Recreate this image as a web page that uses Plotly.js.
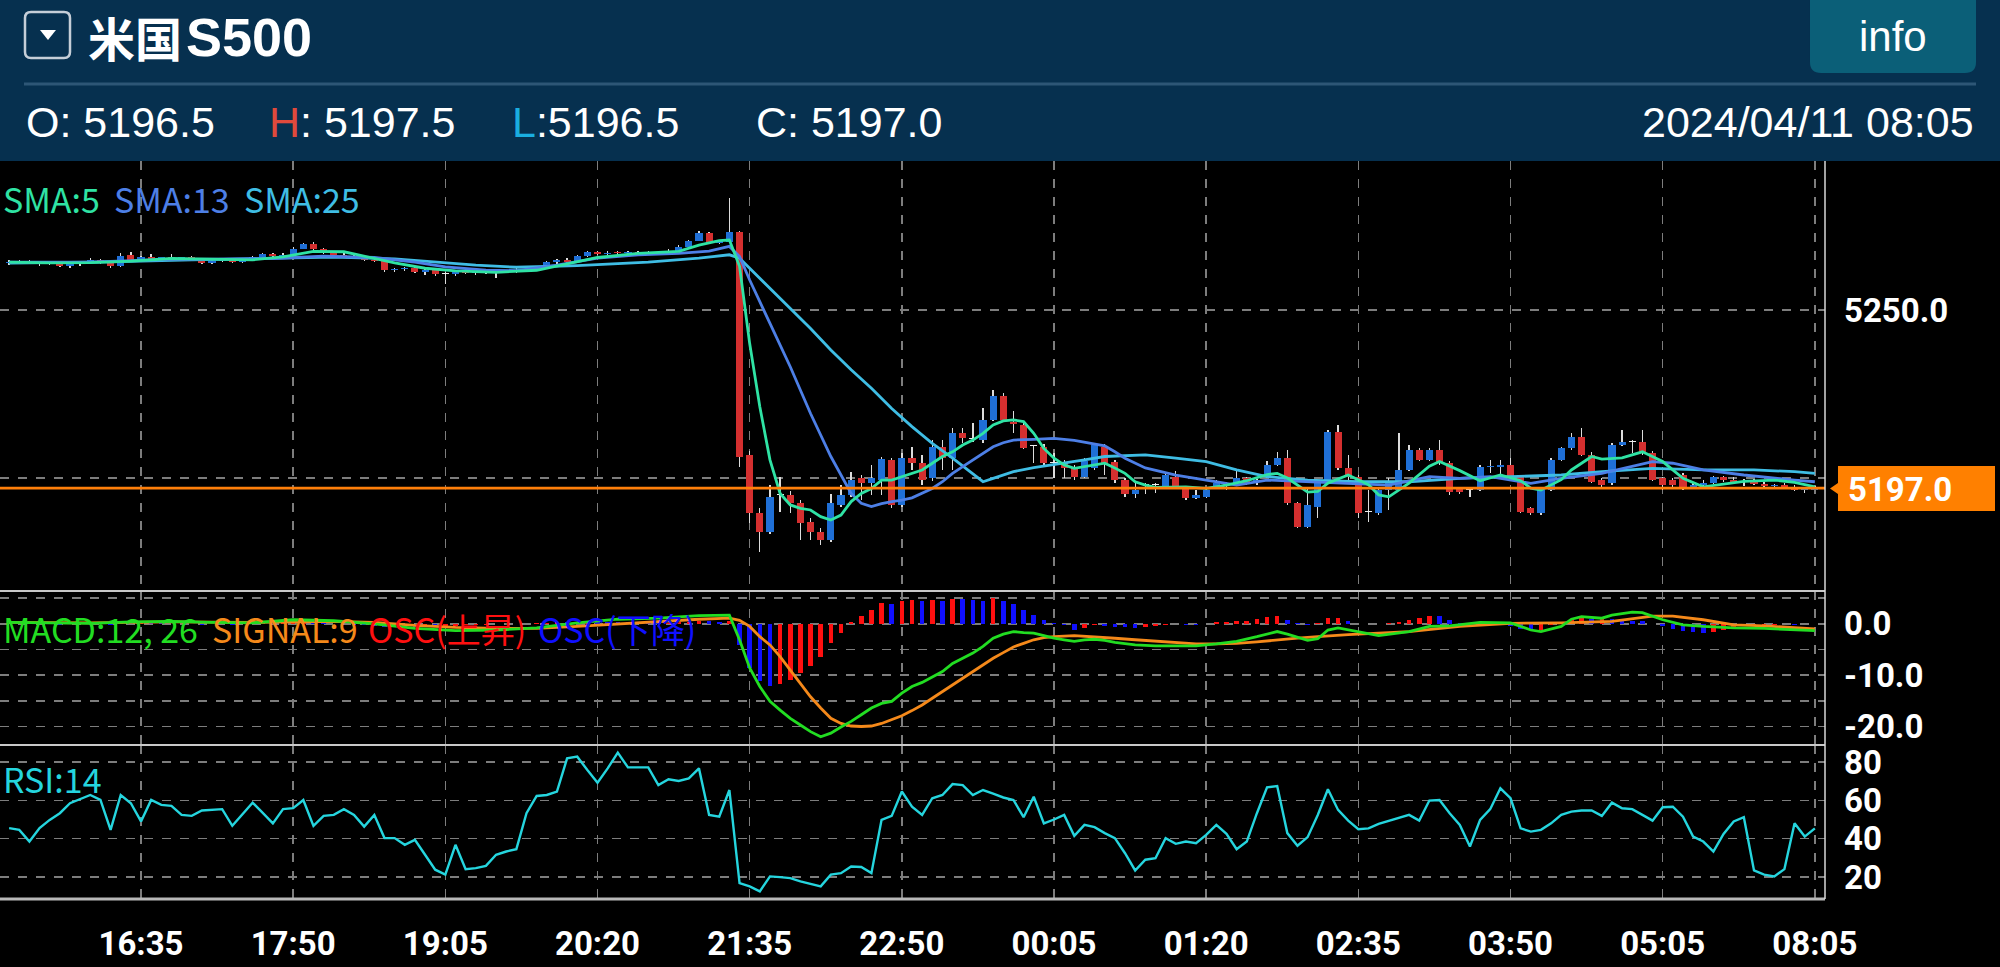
<!DOCTYPE html>
<html><head><meta charset="utf-8">
<script src="https://cdn.plot.ly/plotly-3.0.1.min.js"></script>
<style>html,body{margin:0;padding:0;background:#000;overflow:hidden}#chart{width:2000px;height:967px}</style>
</head><body><div id="chart"></div>
<script>
// ---------- DATA ----------
const symbolName = '米国';
const symbolCode = 'S500';
const lastTime = '2024/04/11 08:05';
const timeTickIdx = [13, 28, 43, 58, 73, 88, 103, 118, 133, 148, 163, 178];
const timeLabels = ['16:35','17:50','19:05','20:20','21:35','22:50','00:05','01:20','02:35','03:50','05:05','08:05'];

const openP = [
5264.0,5264.2,5264.5,5264.0,5263.6,5264.2,5263.0,5263.6,5264.2,5264.8,
5264.0,5263.0,5266.2,5265.0,5265.6,5265.2,5265.6,5265.2,5265.6,5265.0,
5264.0,5264.6,5265.0,5264.4,5265.2,5265.6,5266.6,5266.0,5266.4,5268.2,
5269.6,5268.0,5267.0,5266.4,5266.0,5265.4,5265.0,5264.6,5261.8,5262.2,
5262.4,5261.4,5262.0,5260.8,5260.8,5261.2,5260.9,5261.4,5261.0,5261.4,
5261.2,5262.0,5261.8,5262.8,5264.2,5264.8,5264.2,5266.0,5267.2,5266.6,
5267.0,5266.8,5267.2,5266.8,5267.3,5267.0,5267.6,5268.8,5270.6,5273.0,
5270.0,5270.2,5273.1,5206.9,5189.5,5184.0,5195.0,5195.0,5192.5,5187.0,
5184.0,5181.5,5192.0,5195.0,5200.0,5198.5,5199.5,5205.3,5192.0,5205.9,
5204.4,5199.9,5209.3,5205.9,5213.3,5211.5,5211.3,5217.3,5224.4,5216.8,
5215.8,5209.4,5209.3,5204.4,5204.4,5203.4,5200.4,5203.0,5209.3,5204.9,
5199.4,5195.4,5197.9,5198.0,5197.4,5200.4,5196.9,5194.0,5194.4,5197.6,
5198.0,5198.4,5199.9,5198.8,5200.4,5203.9,5205.9,5192.5,5185.5,5191.5,
5198.9,5213.8,5202.9,5200.4,5190.0,5189.5,5196.4,5196.4,5202.4,5208.3,
5205.4,5208.3,5204.4,5196.9,5196.4,5196.4,5203.2,5203.3,5203.9,5200.4,
5191.0,5189.5,5196.4,5205.4,5208.8,5212.3,5206.9,5199.4,5198.4,5209.8,
5210.8,5210.8,5207.3,5199.9,5199.4,5200.9,5197.4,5197.8,5198.6,5200.2,
5199.4,5198.8,5199.2,5198.2,5197.6,5198.0,5197.2,5196.4,5196.5];
const highP = [
5264.8,5264.8,5265.0,5264.4,5264.6,5264.5,5264.0,5264.5,5265.5,5265.2,
5264.3,5266.8,5267.2,5266.0,5266.6,5265.8,5266.7,5265.8,5266.0,5265.4,
5265.0,5265.4,5265.3,5265.4,5266.0,5266.8,5267.0,5266.8,5268.6,5270.0,
5270.2,5268.4,5267.4,5266.8,5266.3,5265.8,5265.4,5264.8,5262.6,5262.8,
5262.7,5262.4,5262.2,5261.4,5261.6,5261.8,5261.6,5261.8,5261.6,5261.7,
5262.4,5262.6,5263.2,5264.6,5265.2,5265.4,5266.4,5267.6,5267.6,5267.4,
5267.5,5267.6,5267.5,5267.6,5267.6,5268.0,5269.2,5270.9,5273.4,5273.3,
5270.8,5283.3,5273.5,5208.0,5191.0,5197.9,5200.4,5196.0,5193.5,5188.0,
5185.0,5195.4,5198.0,5201.9,5201.0,5203.9,5206.3,5206.0,5207.3,5209.3,
5206.8,5211.3,5211.3,5214.8,5214.8,5216.3,5220.7,5226.2,5225.2,5219.8,
5216.3,5209.9,5210.0,5207.4,5205.4,5204.0,5206.0,5210.4,5210.0,5205.5,
5200.0,5199.0,5198.4,5198.6,5201.4,5202.0,5197.4,5196.4,5197.0,5199.4,
5198.8,5202.4,5200.4,5199.8,5205.0,5207.8,5208.3,5193.0,5197.4,5199.2,
5214.3,5215.8,5206.9,5201.0,5196.4,5196.9,5199.9,5213.3,5209.8,5208.8,
5208.8,5211.3,5205.0,5197.4,5197.4,5203.9,5205.4,5205.4,5205.9,5201.0,
5191.5,5196.9,5205.9,5209.3,5213.3,5214.8,5207.8,5200.0,5210.3,5214.3,
5211.3,5214.3,5208.0,5200.4,5200.0,5201.4,5198.6,5199.4,5200.6,5200.6,
5200.2,5199.6,5199.6,5198.8,5198.2,5198.4,5197.8,5197.4,5197.5];
const lowP = [
5263.5,5263.6,5263.8,5263.2,5263.4,5262.8,5262.6,5263.2,5264.0,5263.6,
5262.5,5262.8,5264.8,5264.6,5265.0,5264.6,5265.2,5264.8,5264.8,5263.6,
5263.8,5264.2,5264.0,5264.0,5264.8,5265.4,5265.6,5265.8,5266.2,5268.0,
5267.6,5266.6,5266.0,5265.4,5265.2,5264.6,5264.2,5261.4,5261.2,5261.6,
5261.0,5260.5,5260.2,5257.8,5260.2,5260.6,5260.4,5260.6,5259.6,5260.9,
5261.0,5261.4,5261.6,5262.6,5263.8,5263.8,5264.0,5265.8,5266.2,5266.2,
5266.4,5266.5,5266.4,5266.6,5266.6,5266.8,5267.4,5268.6,5270.4,5269.6,
5269.6,5269.8,5203.4,5186.5,5178.0,5183.5,5190.0,5189.5,5181.5,5181.5,
5180.0,5181.0,5191.5,5194.5,5193.5,5195.0,5195.0,5191.0,5191.5,5202.4,
5197.9,5199.0,5202.4,5202.4,5210.4,5210.8,5210.3,5217.0,5217.0,5213.3,
5208.5,5204.4,5204.0,5200.0,5199.9,5199.4,5200.0,5202.5,5200.9,5198.4,
5194.5,5194.0,5195.4,5195.6,5197.0,5196.9,5193.4,5193.8,5194.0,5197.0,
5196.4,5198.0,5197.9,5198.0,5200.0,5203.5,5191.9,5185.0,5185.0,5188.0,
5198.4,5202.4,5199.4,5188.0,5187.0,5189.0,5190.5,5196.0,5202.0,5205.0,
5205.0,5204.0,5195.0,5195.4,5194.4,5196.0,5201.4,5200.4,5200.0,5189.5,
5188.9,5189.0,5196.0,5205.0,5208.4,5206.5,5198.4,5197.4,5198.0,5209.4,
5207.3,5207.0,5199.0,5196.4,5197.4,5196.4,5196.6,5197.4,5198.2,5198.8,
5198.2,5197.6,5197.8,5197.2,5196.8,5196.6,5196.2,5195.6,5196.5];
const closeP = [
5264.2,5264.5,5264.0,5263.6,5264.2,5263.0,5263.6,5264.2,5264.8,5264.0,
5263.0,5266.0,5265.0,5265.6,5265.2,5265.6,5265.2,5265.6,5265.0,5264.0,
5264.6,5265.0,5264.4,5265.2,5265.6,5266.6,5266.0,5266.4,5268.2,5269.6,
5268.0,5267.0,5266.4,5266.0,5265.4,5265.0,5264.6,5261.8,5262.2,5262.4,
5261.4,5262.0,5260.8,5260.8,5261.2,5260.9,5261.4,5261.0,5261.4,5261.2,
5262.0,5261.8,5262.8,5264.2,5264.8,5264.2,5266.0,5267.2,5266.6,5267.0,
5266.8,5267.2,5266.8,5267.3,5267.0,5267.6,5268.8,5270.6,5273.0,5270.0,
5270.4,5273.1,5206.4,5189.5,5184.0,5194.4,5195.0,5192.5,5186.5,5184.0,
5181.5,5192.5,5195.0,5199.4,5198.4,5200.0,5205.8,5192.0,5205.9,5204.4,
5199.4,5209.3,5205.9,5213.3,5211.8,5211.5,5217.3,5224.4,5217.3,5216.2,
5208.8,5209.4,5204.4,5204.4,5202.9,5200.4,5205.2,5209.7,5204.4,5199.4,
5195.4,5196.4,5197.9,5198.0,5200.9,5197.4,5194.0,5194.9,5196.4,5198.4,
5197.9,5199.9,5198.4,5199.4,5203.9,5205.9,5192.5,5185.5,5192.0,5198.9,
5213.8,5202.9,5200.4,5189.5,5190.0,5196.4,5199.0,5202.4,5208.3,5205.4,
5208.3,5204.4,5195.9,5195.9,5196.4,5203.4,5203.7,5203.8,5200.4,5190.0,
5189.5,5196.4,5205.4,5208.8,5212.3,5206.9,5198.9,5198.0,5209.8,5210.8,
5210.8,5207.3,5199.4,5197.9,5197.9,5197.4,5197.8,5198.6,5200.2,5199.4,
5198.8,5199.2,5198.2,5197.6,5198.0,5197.2,5196.4,5196.5,5197.0];

// moving averages (candle index, price)
const sma5Idx = [0,4,8,12,16,20,24,27,30,33,36,38,41,44,48,52,55,58,62,66,68,70,71,72,73,74,75,76,77,78,79,80,81,82,83,84,85,86,87,88,89,90,91,92,93,94,95,96,97,98,99,100,101,102,103,104,105,106,107,108,109,110,111,112,113,116,118,120,122,124,125,126,128,129,130,132,134,135,136,138,140,141,143,145,147,149,150,151,153,154,156,157,159,161,163,165,167,169,171,174,176,178];
const sma5Val = [5264.2,5264.0,5264.1,5264.5,5265.3,5265.0,5264.9,5265.8,5267.4,5267.3,5265.4,5264.0,5262.4,5261.6,5261.2,5261.8,5263.7,5265.6,5266.8,5267.4,5269.3,5270.6,5270.8,5263.0,5240.0,5221.2,5205.4,5195.4,5192.0,5191.0,5190.5,5188.5,5187.5,5189.0,5193.0,5195.4,5196.9,5199.4,5199.4,5200.4,5201.4,5202.4,5204.4,5206.4,5207.8,5209.8,5211.3,5213.3,5215.8,5217.0,5217.3,5216.8,5213.3,5208.8,5205.9,5203.9,5202.9,5203.4,5204.0,5204.4,5203.0,5201.4,5198.9,5197.9,5197.2,5197.4,5196.9,5197.9,5199.2,5201.0,5201.4,5200.0,5195.8,5196.0,5198.5,5200.9,5198.0,5195.0,5194.4,5198.5,5203.5,5204.9,5202.2,5199.2,5200.9,5199.2,5197.0,5196.4,5199.5,5202.4,5206.4,5205.6,5206.0,5207.8,5204.9,5199.9,5197.4,5198.2,5199.0,5199.4,5198.7,5197.4];
const sma13Idx = [0,8,14,20,26,31,36,40,43,47,50,54,58,62,66,69,71,72,73,75,77,79,81,83,84,85,86,87,88,89,90,91,92,93,94,95,96,97,98,99,101,103,105,107,108,109,110,112,115,118,121,124,128,132,136,140,143,146,150,153,157,162,164,167,171,176,178];
const sma13Val = [5264.2,5264.2,5264.9,5265.1,5265.3,5266.0,5265.6,5264.2,5262.8,5261.8,5261.7,5263.3,5265.4,5266.4,5266.8,5267.5,5268.9,5265.9,5258.9,5246.0,5233.1,5219.2,5206.4,5195.4,5192.5,5191.5,5192.4,5193.0,5193.4,5194.1,5195.4,5196.9,5198.9,5201.4,5203.4,5205.4,5207.3,5209.3,5210.5,5211.3,5211.5,5211.8,5211.2,5210.1,5209.6,5207.8,5205.9,5203.0,5200.9,5199.4,5197.9,5199.4,5198.9,5198.4,5197.9,5200.4,5199.9,5200.4,5198.4,5199.9,5201.4,5204.9,5204.4,5202.4,5200.9,5199.4,5198.9];
const sma25Idx = [0,10,18,26,32,38,42,46,50,56,63,68,71,72,73,75,77,79,81,83,85,87,89,91,93,95,96,97,99,101,104,106,108,112,115,118,121,124,128,133,138,143,148,153,157,162,167,172,176,178];
const sma25Val = [5263.9,5264.3,5264.9,5265.4,5265.7,5265.2,5264.2,5263.3,5262.7,5263.2,5264.2,5265.4,5266.4,5265.4,5262.4,5256.5,5250.5,5244.5,5238.1,5232.2,5226.7,5220.7,5215.3,5210.3,5205.9,5201.4,5198.9,5199.9,5201.9,5203.1,5204.4,5205.4,5206.4,5206.9,5205.9,5204.9,5202.4,5200.4,5199.4,5198.9,5198.9,5199.9,5200.4,5200.9,5201.9,5202.9,5202.4,5202.4,5201.9,5201.4];

// MACD(12,26) line, SIGNAL(9) line (candle index, value) and OSC histogram (one per candle)
const macdIdx = [0,4,8,12,16,20,24,28,32,36,40,44,48,52,56,60,64,68,71,72,73,74,75,76,77,78,79,80,81,82,83,84,85,86,87,88,89,90,91,92,93,94,95,96,97,98,99,100,101,102,103,104,105,106,107,108,109,111,113,115,117,119,121,123,125,126,128,129,130,131,132,135,138,140,142,145,148,150,151,153,154,155,157,158,160,161,163,165,167,170,173,178];
const macdVal = [0.3,0.2,0.1,0.4,0.5,0.3,0.2,0.8,0.6,0.0,-0.9,-1.3,-1.2,-0.8,0.2,0.9,1.1,1.6,1.7,-3.1,-8.6,-12.2,-15.1,-16.8,-18.4,-19.7,-21.0,-22.0,-21.3,-20.1,-19.0,-17.7,-16.4,-15.5,-15.1,-13.5,-12.2,-11.4,-10.3,-9.3,-7.7,-6.7,-5.7,-4.4,-2.8,-2.0,-1.5,-1.7,-1.8,-2.3,-2.8,-3.1,-3.4,-3.1,-3.0,-3.2,-3.6,-4.1,-4.3,-4.3,-4.3,-3.9,-3.4,-2.5,-1.5,-2.0,-3.2,-2.9,-1.2,-0.8,-1.2,-2.3,-1.5,-0.5,-0.4,0.3,0.2,-1.2,-1.5,-0.5,0.9,1.4,1.1,1.7,2.3,2.2,0.8,-0.2,-0.5,-0.8,-0.9,-1.3];
const signalIdx = [0,8,16,24,32,36,40,44,48,52,56,60,64,68,71,72,73,74,75,76,77,78,79,80,81,82,83,84,85,86,87,88,89,90,91,92,93,94,95,96,97,98,99,100,101,102,103,105,107,109,111,113,115,117,119,121,123,125,127,129,132,138,143,148,153,158,162,164,167,170,173,178];
const signalVal = [0.3,0.2,0.4,0.3,0.5,0.3,-0.3,-0.7,-0.9,-0.9,-0.5,0.0,0.5,0.9,1.1,0.7,-0.5,-2.5,-4.1,-6.4,-9.0,-11.6,-14.2,-16.4,-18.4,-19.4,-19.9,-20.0,-19.9,-19.4,-18.7,-17.9,-16.9,-15.8,-14.5,-13.2,-11.9,-10.6,-9.3,-8.0,-6.7,-5.6,-4.5,-3.8,-3.1,-2.7,-2.5,-2.3,-2.5,-2.8,-3.1,-3.4,-3.6,-3.9,-3.9,-3.8,-3.5,-3.1,-2.8,-2.5,-2.1,-1.5,-0.5,0.1,0.2,0.5,1.5,1.5,0.8,-0.2,-0.4,-1.0];
const oscHist = [
0.1,0.05,-0.1,-0.1,0.05,-0.15,-0.05,0.05,0.15,0.05,
-0.2,0.25,0.2,0.2,0.15,0.1,0.05,0.05,0.0,-0.15,
-0.1,-0.05,-0.15,-0.05,0.05,0.15,0.1,0.1,0.3,0.45,
0.3,0.15,0.0,-0.1,-0.2,-0.3,-0.35,-0.6,-0.6,-0.55,
-0.6,-0.5,-0.55,-0.5,-0.35,-0.3,-0.2,-0.15,-0.1,-0.05,
0.0,0.05,0.1,0.25,0.35,0.3,0.45,0.55,0.5,0.45,
0.4,0.35,0.3,0.25,0.2,0.2,0.3,0.45,0.65,0.5,
0.4,0.55,-4.1,-8.6,-11.2,-12.1,-11.8,-10.9,-9.6,-8.3,
-6.4,-3.8,-1.8,0.3,1.6,2.7,4.0,3.9,4.5,4.7,
4.4,4.7,4.5,4.8,4.75,4.7,4.4,5.0,4.5,3.9,
2.7,1.8,0.7,0.1,-0.3,-1.1,-0.9,-0.3,-0.5,-0.6,
-0.7,-0.8,-0.6,-0.5,-0.2,-0.1,-0.2,-0.25,0.0,0.3,
0.35,0.5,0.6,0.9,1.4,1.6,0.8,0.1,-0.2,0.2,
1.1,1.15,0.6,0.0,-0.1,0.0,0.1,0.4,0.8,1.1,
1.6,1.5,0.7,0.2,-0.1,0.0,0.05,0.1,-0.5,-1.0,
-1.2,-1.1,-0.3,0.4,0.8,1.1,0.9,1.1,0.95,0.9,
0.6,0.5,0.0,-0.5,-1.0,-1.3,-1.5,-1.7,-1.5,-1.1,
-0.7,-0.4,-0.3,-0.2,-0.15,-0.1,-0.15,-0.1,-0.05];

// RSI(14), one per candle
const rsi14 = [
45.5,44.6,38.5,45.5,49.8,53.3,58.5,60.5,62.8,60.2,
44.6,62.8,58.5,49.0,60.2,57.6,57.1,52.4,51.9,54.7,
55.0,55.4,46.7,52.8,58.8,53.5,48.0,55.4,55.9,60.2,
46.7,51.9,52.4,55.4,52.4,46.3,52.4,40.3,40.3,36.8,
39.4,31.6,23.8,21.2,36.8,24.1,24.6,25.8,31.6,33.3,
34.5,53.3,62.3,62.8,64.6,81.9,82.8,75.8,69.2,76.7,
84.9,77.2,77.2,77.2,68.0,71.0,70.1,71.5,76.7,52.4,
51.5,65.4,16.8,15.1,12.5,20.3,19.9,19.4,17.7,16.5,
15.1,21.2,22.0,25.5,25.2,22.0,49.8,51.9,64.6,56.7,
52.4,61.1,62.8,68.5,68.0,62.8,65.4,63.5,61.5,60.2,
51.2,61.9,48.0,50.0,52.4,41.5,47.2,46.0,42.9,40.3,
32.4,23.4,29.0,29.8,40.3,37.3,38.5,37.6,42.0,47.2,
42.5,34.5,38.5,53.3,66.8,67.5,42.9,36.3,40.8,52.4,
65.8,55.0,49.4,44.9,45.4,47.7,49.4,50.7,52.4,49.4,
59.9,60.2,53.3,47.2,35.9,49.8,55.4,66.3,61.1,45.4,
43.7,44.6,48.0,52.4,54.1,54.7,54.7,51.9,58.8,55.9,
55.4,52.4,49.4,56.4,56.7,51.5,41.1,38.5,33.3,42.5,
49.0,51.2,23.4,21.2,20.3,24.1,48.0,41.1,45.4];

// ---------- GEOMETRY / STYLE ----------
const PW = 1825, PT = 161, PB = 899, PH = PB - PT;
const fx = x => x / PW;
const fy = y => (PB - y) / PH;
const P = (x, y) => fx(x).toFixed(5) + ',' + fy(y).toFixed(5);
function rrect(x0, y0, x1, y1, r) {
  return 'M' + P(x0 + r, y0) + ' L' + P(x1 - r, y0) + ' Q' + P(x1, y0) + ' ' + P(x1, y0 + r) +
    ' L' + P(x1, y1 - r) + ' Q' + P(x1, y1) + ' ' + P(x1 - r, y1) +
    ' L' + P(x0 + r, y1) + ' Q' + P(x0, y1) + ' ' + P(x0, y1 - r) +
    ' L' + P(x0, y0 + r) + ' Q' + P(x0, y0) + ' ' + P(x0 + r, y0) + ' Z';
}

const UP = '#1f6fd6', DOWN = '#d42f2f', DOJI = '#eeeeee', WICK = '#dcdcdc';
const C_SMA5 = '#2fe3a4', C_SMA13 = '#4d7fe6', C_SMA25 = '#3fbde4';
const C_MACD = '#22dd22', C_SIG = '#f5891a', C_OSC_UP = '#ff1010', C_OSC_DN = '#1010ff';
const C_RSI = '#25d5de';
const GRID = '#7d7d7d';
const AX_FONT = {family: 'Roboto, Liberation Sans, sans-serif', size: 33, color: '#ffffff', weight: 'bold'};
const LEG_FONT = 'Noto Sans CJK JP, Noto Sans, sans-serif';
const LEG_SIZE = 34;

const idx = closeP.map((_, i) => i);
const N = closeP.length;

const wickTrace = {
  type: 'bar', x: idx, base: lowP, y: highP.map((h, i) => h - lowP[i]),
  width: 0.13, marker: {color: WICK, line: {width: 0}}, yaxis: 'y', hoverinfo: 'skip'
};
const bodyTrace = {
  type: 'bar', x: idx,
  base: idx.map(i => Math.min(openP[i], closeP[i])),
  y: idx.map(i => Math.max(Math.abs(closeP[i] - openP[i]), 0.3)),
  width: 0.7,
  marker: {color: idx.map(i => closeP[i] > openP[i] ? UP : (closeP[i] < openP[i] ? DOWN : DOJI)), line: {width: 0}},
  yaxis: 'y', hoverinfo: 'skip'
};
const line = (x, y, color, w, ax) => ({type: 'scatter', mode: 'lines', x, y, yaxis: ax,
  line: {color, width: w}, hoverinfo: 'skip'});

const oscTrace = {
  type: 'bar', x: idx, y: oscHist, width: 0.45, yaxis: 'y2',
  marker: {color: oscHist.map((v, i) => (i > 0 && v < oscHist[i - 1]) ? C_OSC_DN : C_OSC_UP), line: {width: 0}},
  hoverinfo: 'skip'
};

const data = [
  wickTrace, bodyTrace,
  line(sma25Idx, sma25Val, C_SMA25, 2.8, 'y'),
  line(sma13Idx, sma13Val, C_SMA13, 2.8, 'y'),
  line(sma5Idx, sma5Val, C_SMA5, 2.8, 'y'),
  oscTrace,
  line(signalIdx, signalVal, C_SIG, 2.8, 'y2'),
  line(macdIdx, macdVal, C_MACD, 2.8, 'y2'),
  line(idx, rsi14, C_RSI, 2.4, 'y3')
];

const gridBase = {showgrid: true, gridcolor: GRID, gridwidth: 1.5, griddash: '9px,9px',
  zeroline: false, showline: false, ticks: '', fixedrange: true};
const yBase = Object.assign({}, gridBase, {side: 'right', anchor: 'x', tickfont: AX_FONT, ticklabelstandoff: 18});

const lastO = openP[N - 1], lastH = highP[N - 1], lastL = lowP[N - 1], lastC = closeP[N - 1];

const hdrY = fy(122);
const ann = (text, x, y, color, size, xanchor, family, weight) => ({
  text, x, y, xref: 'paper', yref: 'paper', xanchor: xanchor || 'left', yanchor: 'middle',
  showarrow: false, font: {family: family || 'Liberation Sans, Arial, sans-serif', size, color, weight: weight || 'normal'}
});

const annotations = [
  ann(symbolName, fx(86), fy(37), '#ffffff', 47, 'left', 'Noto Sans CJK JP', 'bold'),
  ann(symbolCode, fx(184), fy(37), '#ffffff', 54, 'left', 'Liberation Sans, Arial', 'bold'),
  ann('info', fx(1893), fy(36), '#ffffff', 42, 'center'),
  ann('O: ' + lastO.toFixed(1), fx(24), hdrY, '#ffffff', 43),
  ann('<span style="color:#e04a3c">H</span>: ' + lastH.toFixed(1), fx(267), hdrY, '#ffffff', 43),
  ann('<span style="color:#1aaee0">L</span>:' + lastL.toFixed(1), fx(510), hdrY, '#ffffff', 43),
  ann('C: ' + lastC.toFixed(1), fx(754), hdrY, '#ffffff', 43),
  ann(lastTime, fx(1976), hdrY, '#ffffff', 43, 'right'),
  ann('SMA:5', fx(1), fy(198), C_SMA5, LEG_SIZE, 'left', LEG_FONT),
  ann('SMA:13', fx(112), fy(198), C_SMA13, LEG_SIZE, 'left', LEG_FONT),
  ann('SMA:25', fx(242), fy(198), C_SMA25, LEG_SIZE, 'left', LEG_FONT),
  ann('MACD:12, 26', fx(1), fy(628), C_MACD, LEG_SIZE, 'left', LEG_FONT),
  ann('SIGNAL:9', fx(210), fy(628), C_SIG, LEG_SIZE, 'left', LEG_FONT),
  ann('OSC(上昇)', fx(366), fy(628), C_OSC_UP, LEG_SIZE, 'left', LEG_FONT),
  ann('OSC(下降)', fx(536), fy(628), C_OSC_DN, LEG_SIZE, 'left', LEG_FONT),
  ann('RSI:14', fx(1), fy(778), C_RSI, LEG_SIZE, 'left', LEG_FONT),
  ann(lastC.toFixed(1), fx(1846), fy(489), '#ffffff', 33, 'left', 'Roboto, Liberation Sans', 'bold')
];

const shapes = [
  // header
  {type: 'rect', xref: 'paper', yref: 'paper', x0: 0, x1: fx(2000), y0: fy(161), y1: fy(0),
   fillcolor: '#06304f', line: {width: 0}, layer: 'above'},
  {type: 'path', xref: 'paper', yref: 'paper', path: rrect(1810, -12, 1976, 73, 11),
   fillcolor: '#0b5f78', line: {width: 0}, layer: 'above'},
  {type: 'path', xref: 'paper', yref: 'paper', path: rrect(25, 12, 70, 58, 6),
   fillcolor: 'rgba(0,0,0,0)', line: {color: '#c5ced8', width: 2.5}, layer: 'above'},
  {type: 'path', xref: 'paper', yref: 'paper', path: 'M' + P(40, 30) + ' L' + P(56, 30) + ' L' + P(48, 40) + ' Z',
   fillcolor: '#ffffff', line: {width: 0}, layer: 'above'},
  {type: 'line', xref: 'paper', yref: 'paper', x0: fx(24), x1: fx(1976), y0: fy(84), y1: fy(84),
   line: {color: '#2d5676', width: 3}, layer: 'above'},
  // current price line
  {type: 'line', xref: 'paper', yref: 'y', x0: 0, x1: 1, y0: lastC, y1: lastC,
   line: {color: '#ff7f0a', width: 2.8}, layer: 'above'},
  // price tag
  {type: 'path', xref: 'paper', yref: 'paper',
   path: 'M' + P(1838, 466) + ' L' + P(1995, 466) + ' L' + P(1995, 511) + ' L' + P(1838, 511) +
         ' L' + P(1838, 494) + ' L' + P(1830, 488.5) + ' L' + P(1838, 483) + ' Z',
   fillcolor: '#ff8000', line: {width: 0}, layer: 'above'},
  // panel separators and border
  {type: 'line', xref: 'paper', yref: 'paper', x0: 0, x1: 1, y0: fy(591), y1: fy(591), line: {color: '#c8c8c8', width: 2}, layer: 'above'},
  {type: 'line', xref: 'paper', yref: 'paper', x0: 0, x1: 1, y0: fy(745), y1: fy(745), line: {color: '#c8c8c8', width: 2}, layer: 'above'},
  {type: 'line', xref: 'paper', yref: 'paper', x0: 0, x1: 1, y0: 0, y1: 0, line: {color: '#b8b8b8', width: 3}, layer: 'above'},
  {type: 'line', xref: 'paper', yref: 'paper', x0: 1, x1: 1, y0: 0, y1: 1, line: {color: '#d8d8d8', width: 1.5}, layer: 'above'}
];

const layout = {
  width: 2000, height: 967,
  margin: {l: 0, r: 175, t: 161, b: 68, pad: 0},
  paper_bgcolor: '#000000', plot_bgcolor: '#000000',
  showlegend: false, barmode: 'overlay', bargap: 0,
  xaxis: Object.assign({}, gridBase, {range: [-0.9, 179], tickvals: timeTickIdx, ticktext: timeLabels,
    anchor: 'y3', tickfont: AX_FONT, ticklabelstandoff: 22}),
  yaxis: Object.assign({}, yBase, {domain: [fy(591), 1], range: [5166.4, 5294.3],
    tickvals: [5200, 5250], ticktext: ['', '5250.0']}),
  yaxis2: Object.assign({}, yBase, {domain: [fy(745), fy(591)], range: [-23.6, 6.4],
    tickvals: [5, 0, -5, -10, -15, -20], ticktext: ['', '0.0', '', '-10.0', '', '-20.0']}),
  yaxis3: Object.assign({}, yBase, {domain: [0, fy(745)], range: [8.5, 88.9],
    tickvals: [20, 40, 60, 80], ticktext: ['20', '40', '60', '80']}),
  shapes, annotations
};

Plotly.newPlot('chart', data, layout, {displayModeBar: false, staticPlot: true});
</script></body></html>
